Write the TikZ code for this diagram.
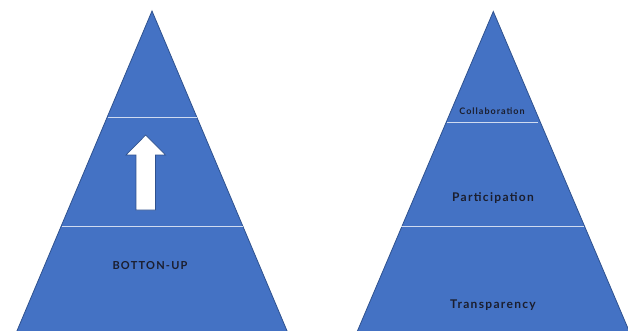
\documentclass[tikz,border=0pt]{standalone}
\usepackage{fontspec}
\setmainfont{Lato}
\newfontfamily\lblfont[LetterSpace=11]{Lato}
\begin{document}
\begin{tikzpicture}[x=1pt,y=-1pt,
  pyr/.style={fill=pyrblue,draw=pyredge,line width=0.8pt,line join=miter},
  sep/.style={draw=seplight,line width=0.9pt},
  lbl/.style={text=lbltext,inner sep=0pt}]
\definecolor{pyrblue}{HTML}{4472C4}
\definecolor{pyredge}{HTML}{2F528F}
\definecolor{seplight}{HTML}{D0DBF0}
\definecolor{lbltext}{HTML}{1B1E2E}
\useasboundingbox (0,0) rectangle (628,331);
% left pyramid
\path[pyr] (152,11) -- (287.5,332) -- (16.5,332) -- cycle;
\draw[sep] (107.5,117) -- (196.5,117);
\draw[sep] (61.5,226) -- (242.5,226);
\path[fill=white,draw=pyredge,line width=0.7pt,line join=miter]
  (145.7,135) -- (165.5,155) -- (155.5,155) -- (155.5,210) -- (136,210) -- (136,155) -- (126,155) -- cycle;
\node[lbl,font=\lblfont\bfseries\fontsize{11}{12}\selectfont] (bu) at (150,265.5) {BOTTON-UP};
% right pyramid
\path[pyr] (493.3,11.5) -- (629.5,332) -- (357,332) -- cycle;
\draw[sep] (447,122.5) -- (538,122.5);
\draw[sep] (401,226) -- (584,226);
\node[lbl,font=\lblfont\bfseries\fontsize{9}{10}\selectfont] (co) at (492,111) {Collaboration};
\node[lbl,font=\lblfont\bfseries\fontsize{12}{13}\selectfont] (pa) at (493,198) {Participation};
\node[lbl,font=\lblfont\bfseries\fontsize{12}{13}\selectfont] (tr) at (493,305) {Transparency};
\end{tikzpicture}
\end{document}
